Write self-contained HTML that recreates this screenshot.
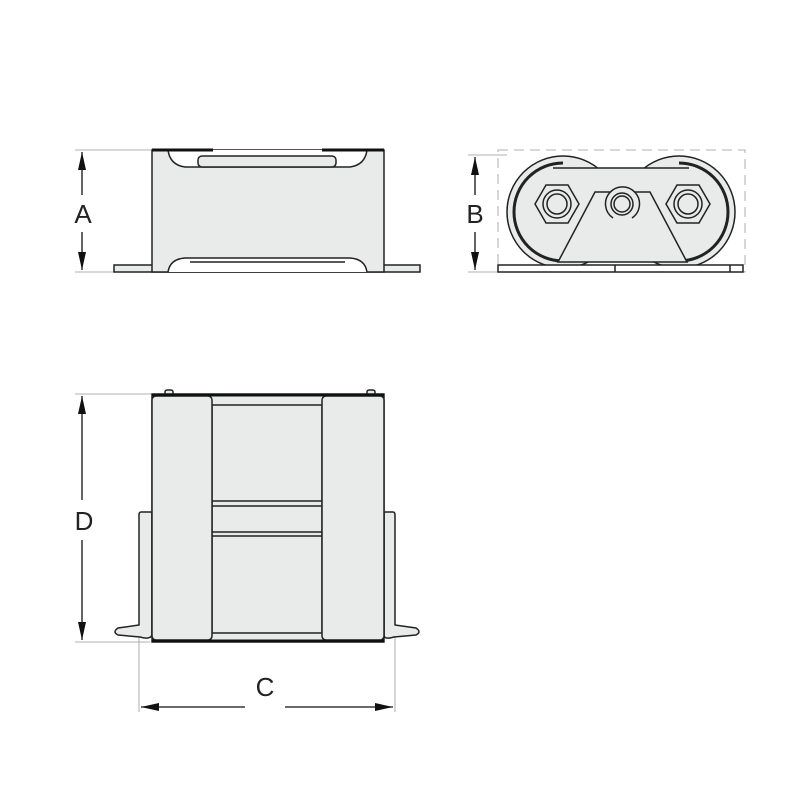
<!DOCTYPE html>
<html><head><style>body{margin:0;background:#fff}svg{display:block}</style></head><body>
<svg width="800" height="800" viewBox="0 0 800 800" xmlns="http://www.w3.org/2000/svg" font-family="Liberation Sans, sans-serif">
<defs>
<marker id="ar" viewBox="0 0 10 10" refX="10" refY="5" markerWidth="18" markerHeight="8" markerUnits="userSpaceOnUse" orient="auto-start-reverse" preserveAspectRatio="none"><path d="M0,0 L10,5 L0,10 z" fill="#111"/></marker>
</defs>
<g stroke="#999" stroke-width="0.8" fill="none">
<line x1="75" y1="150" x2="152" y2="150"/><line x1="75" y1="272" x2="114" y2="272"/>
<line x1="468" y1="155" x2="507" y2="155"/><line x1="468" y1="272" x2="498" y2="272"/>
<line x1="75" y1="394" x2="152" y2="394"/><line x1="75" y1="642" x2="150" y2="642"/>
<line x1="139" y1="636" x2="139" y2="712"/><line x1="395" y1="636" x2="395" y2="712"/>
<rect x="498" y="150" width="247" height="122" stroke-dasharray="10,6"/>
</g>
<g stroke="#111" stroke-width="1.3" fill="none">
<line x1="82" y1="152" x2="82" y2="195" marker-start="url(#ar)"/><line x1="82" y1="232" x2="82" y2="270" marker-end="url(#ar)"/>
<line x1="475" y1="157" x2="475" y2="195" marker-start="url(#ar)"/><line x1="475" y1="232" x2="475" y2="270" marker-end="url(#ar)"/>
<line x1="82" y1="396" x2="82" y2="500" marker-start="url(#ar)"/><line x1="82" y1="540" x2="82" y2="640" marker-end="url(#ar)"/>
<line x1="141" y1="707" x2="245" y2="707" marker-start="url(#ar)"/><line x1="285" y1="707" x2="393" y2="707" marker-end="url(#ar)"/>
</g>
<g font-size="26" fill="#222" text-anchor="middle">
<text x="83" y="223">A</text><text x="475" y="223">B</text><text x="84" y="530">D</text><text x="265" y="696">C</text>
</g>
<g stroke="#222" stroke-width="1.5" fill="#e9eaea">
<rect x="114" y="265" width="306" height="7"/>
<rect x="152" y="150" width="232" height="122"/>
<path d="M168,150 Q170,165 185,167 L350,167 Q365,165 367,150" fill="#fff"/>
<rect x="198" y="156" width="138" height="11" rx="4"/>
<path d="M168,272 Q170,259 185,258 L350,258 Q365,259 367,272" fill="#fff"/>
<line x1="190" y1="262" x2="345" y2="262"/>
</g>
<g stroke="#111" stroke-width="3"><line x1="152" y1="150" x2="213" y2="150"/><line x1="322" y1="150" x2="384" y2="150"/></g>
<g stroke="#222" stroke-width="1.5" fill="#e9eaea">
<circle cx="563" cy="212" r="56"/><circle cx="679" cy="212" r="56"/>
<path d="M563,163 A49,49 0 0 0 563,261" stroke-width="3" fill="none"/>
<path d="M679,163 A49,49 0 0 1 679,261" stroke-width="3" fill="none"/>
<rect x="560" y="168" width="122" height="94" stroke="none"/>
<line x1="553" y1="168" x2="689" y2="168"/>
<rect x="498" y="265" width="245" height="7" fill="#fff"/>
<line x1="615" y1="265" x2="615" y2="272"/>
<line x1="730" y1="265" x2="730" y2="272"/>
<path d="M558,262 L595,192 L650,192 L687,262 Z"/>
<polygon points="535,204 546,185 568,185 579,204 568,223 546,223"/>
<circle cx="557" cy="204" r="14"/><circle cx="557" cy="204" r="10"/>
<polygon points="666,204 677,185 699,185 710,204 699,223 677,223"/>
<circle cx="688" cy="204" r="14"/><circle cx="688" cy="204" r="10"/>
<path d="M613,218 A17,17 0 1 1 632,218" fill="#e9eaea"/>
<circle cx="622" cy="204" r="11"/><circle cx="622" cy="204" r="8"/>
</g>
<g stroke="#222" stroke-width="1.5" fill="#e9eaea">
<path d="M152,512 L141,512 Q139,512 139,515 L139,625 L118,628 Q112,632 118,635 L140,637 Q150,640 152,635 Z"/>
<path d="M384,512 L393,512 Q395,512 395,515 L395,625 L416,628 Q422,632 416,635 L394,637 Q384,640 384,635 Z"/>
<rect x="165" y="390" width="8" height="6" rx="2"/><rect x="367" y="390" width="8" height="6" rx="2"/>
<rect x="152" y="394" width="232" height="248"/>
<rect x="212" y="405" width="110" height="228"/>
<line x1="212" y1="501" x2="322" y2="501"/><line x1="212" y1="506" x2="322" y2="506"/>
<line x1="212" y1="532" x2="322" y2="532"/><line x1="212" y1="536" x2="322" y2="536"/>
<rect x="152" y="396" width="60" height="244" rx="4"/>
<rect x="322" y="396" width="62" height="244" rx="4"/>
</g>
<g stroke="#111" stroke-width="3"><line x1="152" y1="395" x2="384" y2="395"/><line x1="152" y1="641" x2="384" y2="641"/></g>
</svg>
</body></html>
